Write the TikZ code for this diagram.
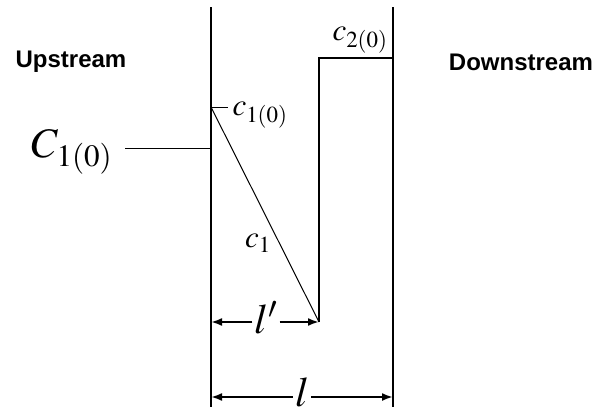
\documentclass[tikz,border=0pt]{standalone}
\usepackage{mathptmx}
\usepackage[no-math]{fontspec}
\setsansfont{Liberation Sans}
\usetikzlibrary{arrows.meta, positioning}
\definecolor{ink}{HTML}{000000}
\tikzset{
  wall/.style={line width=1.4pt, draw=ink},
  thin/.style={line width=1pt, draw=ink},
  dim/.style={line width=2pt, draw=ink, -{Latex[length=11pt,width=8pt]}},
  side/.style={font=\sffamily\bfseries\fontsize{24}{26}\selectfont, text=ink},
  conc/.style={font=\fontsize{31}{33}\selectfont, text=ink, inner sep=1pt},
  bigconc/.style={font=\fontsize{42}{44}\selectfont, text=ink, inner sep=1pt},
  len/.style={font=\fontsize{42}{44}\selectfont, text=ink, inner sep=2pt}
}

\begin{document}
\begin{tikzpicture}[x=1pt,y=-1pt]
\useasboundingbox (0,0) rectangle (607,415);

% walls of the membrane
\coordinate (lwtop) at (211,7);
\coordinate (lwbot) at (211,407);
\coordinate (rwtop) at (393,7);
\coordinate (rwbot) at (393,407);
\draw[wall] (lwtop) -- (lwbot);
\draw[wall] (rwtop) -- (rwbot);

% profile inside
\coordinate (cin) at (211,107);
\coordinate (tick) at (228,107);
\coordinate (front) at (319,322);
\coordinate (steptop) at (319,58);
\coordinate (rwstep) at (393,58);
\coordinate (lwmid) at (211,148);
\coordinate (lwdim) at (211,322);
\coordinate (lwlow) at (211,397);
\coordinate (rwlow) at (393,397);

\draw[thin] (cin) -- (tick);
\draw[thin] (cin) -- (front);
\draw[wall] (front) -- (steptop) -- (rwstep);

% labels
\node[side] (up) at (71,62) {Upstream};
\node[side] (down) at (521,62) {Downstream};
\node[bigconc] (C10) at (72,152) {$C_{1(0)}$};
\node[conc] (c10) at (260,115) {$c_{1(0)}$};
\node[conc] (c20) at (360,40) {$c_{2(0)}$};
\node[conc] (c1) at (258,243) {$c_1$};

\draw[thin] (C10.east |- lwmid) ++(12,0) coordinate (C10end) -- (lwmid);

% dimensions
\node[len] (lp) at (266,318) {$l'$};
\node[len] (l) at (302,392) {$l$};
\draw[dim] (l.west |- lwlow) -- (lwlow);
\draw[dim] (l.east |- rwlow) -- (rwlow);
\draw[dim] (lp.west |- lwdim) -- (lwdim);
\draw[dim] (lp.east |- lwdim) -- (front);

\end{tikzpicture}
\end{document}
